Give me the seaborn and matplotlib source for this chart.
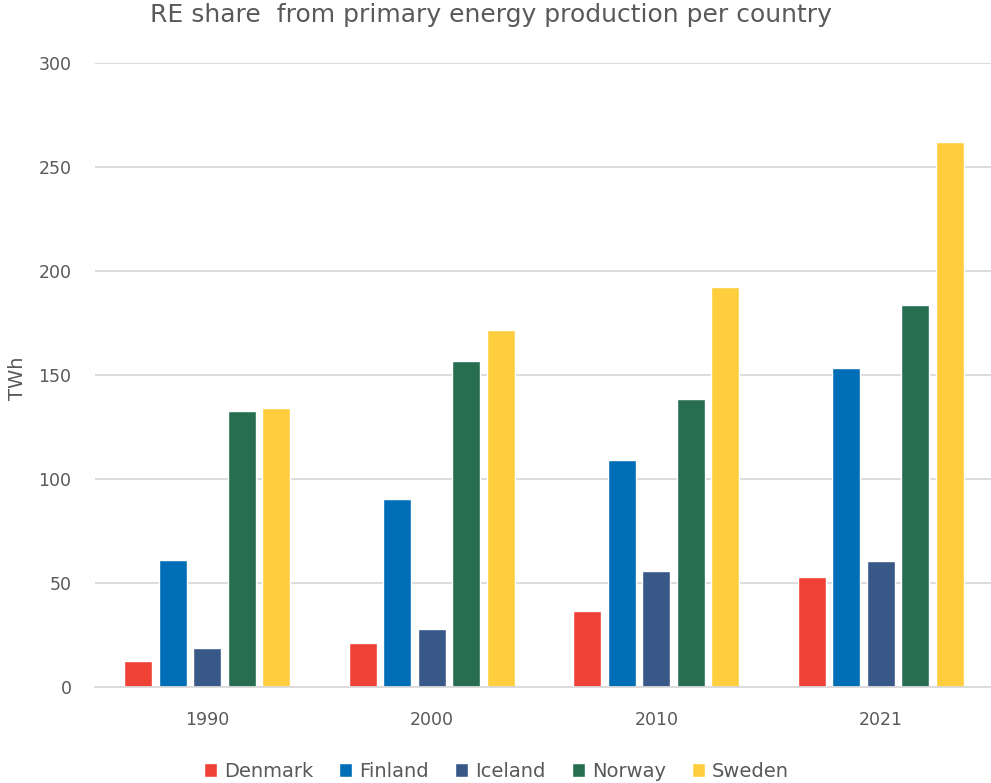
import matplotlib
matplotlib.use("Agg")
import matplotlib.pyplot as plt
import seaborn as sns
import pandas as pd

years = ["1990", "2000", "2010", "2021"]
countries = ["Denmark", "Finland", "Iceland", "Norway", "Sweden"]
denmark = [12.5, 21.0, 36.5, 53.0]
finland = [61.0, 90.3, 109.0, 153.4]
iceland = [18.7, 27.9, 55.8, 60.6]
norway = [132.7, 156.7, 138.5, 183.7]
sweden = [134.0, 171.6, 192.3, 262.0]
colors = ["#EF4136", "#006EB6", "#385888", "#276E51", "#FFCE3F"]

series = dict(zip(countries, [denmark, finland, iceland, norway, sweden]))
rows = [(y, c, series[c][i]) for c in countries for i, y in enumerate(years)]
df = pd.DataFrame(rows, columns=["year", "country", "value"])

sns.set_theme(style="white")
plt.rcParams["font.family"] = ["DejaVu Sans"]
text_color = "#595959"

fig = plt.figure(figsize=(9.91, 7.83), dpi=100)
ax = fig.add_axes([95 / 991, 96 / 783, 898 / 991, 624 / 783])

sns.barplot(data=df, x="year", y="value", hue="country", order=years,
            hue_order=countries, palette=colors, width=0.77, gap=0.19,
            saturation=1, ax=ax, legend=True)

ax.set_ylim(0, 300)
ax.set_yticks(range(0, 301, 50))
ax.set_xlim(-0.5, 3.5)
ax.yaxis.grid(True, color="#D9D9D9", linewidth=1.3)
ax.set_axisbelow(True)
for s in ["top", "right", "left"]:
    ax.spines[s].set_visible(False)
ax.spines["bottom"].set_color("#D9D9D9")
ax.spines["bottom"].set_linewidth(1.3)
ax.tick_params(axis="both", length=0, labelsize=12.5, colors=text_color)
ax.tick_params(axis="y", pad=17)
ax.tick_params(axis="x", pad=17)
ax.set_xlabel("")
ax.set_ylabel("TWh", fontsize=14, color=text_color)
ax.yaxis.set_label_coords(-0.076, 0.495)

fig.text(0.495, 1 - 22 / 783, "RE share  from primary energy production per country",
         ha="center", va="baseline", fontsize=18, color=text_color)

leg = ax.legend(loc="center", bbox_to_anchor=(0.447, -0.135), ncol=5,
                frameon=False, fontsize=14, handlelength=0.67, handleheight=0.67,
                handletextpad=0.36, columnspacing=1.34, borderaxespad=0)
for t in leg.get_texts():
    t.set_color(text_color)

fig.savefig("out.png", dpi=100)
